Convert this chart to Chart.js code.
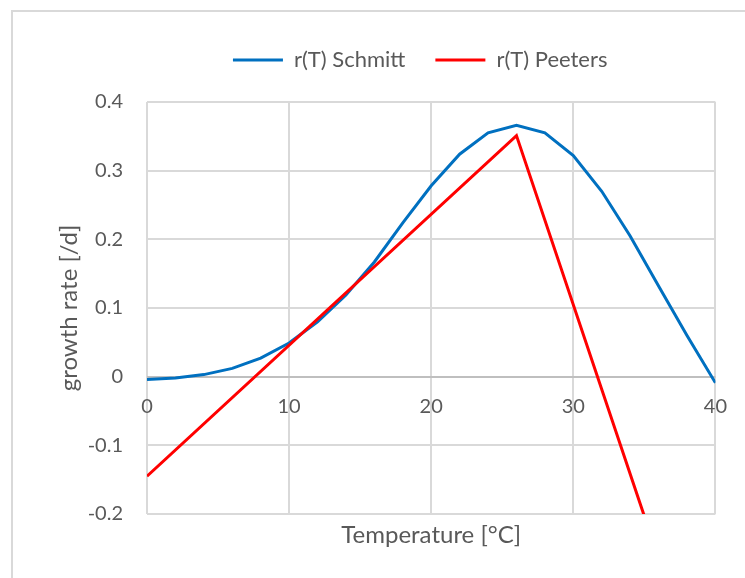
<!DOCTYPE html>
<html>
<head>
<meta charset="utf-8">
<script src="https://cdn.jsdelivr.net/npm/chart.js@4.4.1/dist/chart.umd.min.js"></script>
<style>
  html, body { margin: 0; padding: 0; background: #fff; }
  body { width: 745px; height: 578px; position: relative; overflow: hidden; }
  #frame { position: absolute; left: 11px; top: 10px; width: 800px; height: 700px; border: 2px solid #d9d9d9; }
  #wrap { position: absolute; left: 0; top: 0; width: 745px; height: 578px; }
</style>
</head>
<body>
<div id="frame"></div>
<div id="wrap"><canvas id="chart"></canvas></div>
<script>
// Schmitt curve, sampled every 2 °C
const tempSchmitt = [0, 2, 4, 6, 8, 10, 12, 14, 16, 18, 20, 22, 24, 26, 28, 30, 32, 34, 36, 38, 40];
const rSchmitt = [-0.004, -0.002, 0.003, 0.012, 0.027, 0.049, 0.080, 0.119, 0.167, 0.224, 0.278,
                  0.324, 0.355, 0.366, 0.355, 0.322, 0.270, 0.205, 0.132, 0.060, -0.009];
// Peeters: piecewise linear
const tempPeeters = [0, 26, 40];
const rPeeters = [-0.145, 0.351, -0.511];

const xTicks = [0, 10, 20, 30, 40];
const xTickLabels = ['0', '10', '20', '30', '40'];
const yTicks = [-0.2, -0.1, 0, 0.1, 0.2, 0.3, 0.4];
const yTickLabels = ['-0.2', '-0.1', '0', '0.1', '0.2', '0.3', '0.4'];

const GRAY = '#595959';
const FONT = 'Lato';

const toPoints = (xs, ys) => xs.map((x, i) => ({ x: x, y: ys[i] }));

// fixed legend height so the plot top lands where Excel put it,
// and nudge the legend a bit left like the original
const legendFix = {
  id: 'legendFix',
  beforeInit(chart) {
    const fit = chart.legend.fit;
    chart.legend.fit = function () {
      fit.bind(chart.legend)();
      this.height = 83;
    };
  },
  afterLayout(chart) {
    chart.legend.left -= 11;
    chart.legend.right -= 11;
  }
};

new Chart(document.getElementById('chart'), {
  type: 'line',
  data: {
    datasets: [
      {
        label: 'r(T) Schmitt',
        data: toPoints(tempSchmitt, rSchmitt),
        borderColor: '#0070C0',
        backgroundColor: '#0070C0',
        borderWidth: 3,
        pointRadius: 0,
        tension: 0,
        order: 1
      },
      {
        label: 'r(T) Peeters',
        data: toPoints(tempPeeters, rPeeters),
        borderColor: '#FF0000',
        backgroundColor: '#FF0000',
        borderWidth: 3,
        pointRadius: 0,
        tension: 0,
        order: 0
      }
    ]
  },
  options: {
    responsive: true,
    maintainAspectRatio: false,
    animation: false,
    layout: { padding: { left: 0, right: 0, top: 19, bottom: 0 } },
    plugins: {
      tooltip: { enabled: false },
      legend: {
        position: 'top',
        fullSize: false,
        reverse: true,
        labels: {
          usePointStyle: true,
          pointStyle: 'line',
          pointStyleWidth: 50,
          padding: 30,
          color: GRAY,
          font: { family: FONT, size: 22 }
        }
      }
    },
    scales: {
      x: {
        type: 'linear',
        position: 'bottom',
        min: 0,
        max: 40,
        afterBuildTicks: s => { s.ticks = xTicks.map(v => ({ value: v })); },
        afterFit: s => { s.height = 64; },
        ticks: { display: false },
        grid: { color: '#d9d9d9', lineWidth: 2, drawTicks: false },
        border: { display: false },
        title: {
          display: true,
          text: 'Temperature [°C]',
          color: GRAY,
          font: { family: FONT, size: 24 },
          padding: { top: 0, bottom: 28 }
        }
      },
      xLabels: {
        type: 'linear',
        position: { y: 0 },
        min: 0,
        max: 40,
        afterBuildTicks: s => { s.ticks = xTicks.map(v => ({ value: v })); },
        ticks: {
          padding: 18,
          color: GRAY,
          font: { family: FONT, size: 20 },
          callback: (v, i) => xTickLabels[i]
        },
        grid: { display: false, drawTicks: false },
        border: { display: false }
      },
      y: {
        type: 'linear',
        position: 'left',
        min: -0.2,
        max: 0.4,
        afterBuildTicks: s => { s.ticks = yTicks.map(v => ({ value: v })); },
        afterFit: s => { s.width = 147; },
        ticks: {
          padding: 24,
          color: GRAY,
          font: { family: FONT, size: 20 },
          callback: (v, i) => yTickLabels[i]
        },
        grid: {
          color: c => (c.tick && c.tick.value === 0 ? '#bfbfbf' : '#d9d9d9'),
          lineWidth: 2,
          drawTicks: false
        },
        border: { display: false },
        title: {
          display: true,
          text: 'growth rate [/d]',
          color: GRAY,
          font: { family: FONT, size: 24 },
          padding: { top: 55, bottom: 0 }
        }
      }
    }
  },
  plugins: [legendFix]
});
</script>
</body>
</html>
